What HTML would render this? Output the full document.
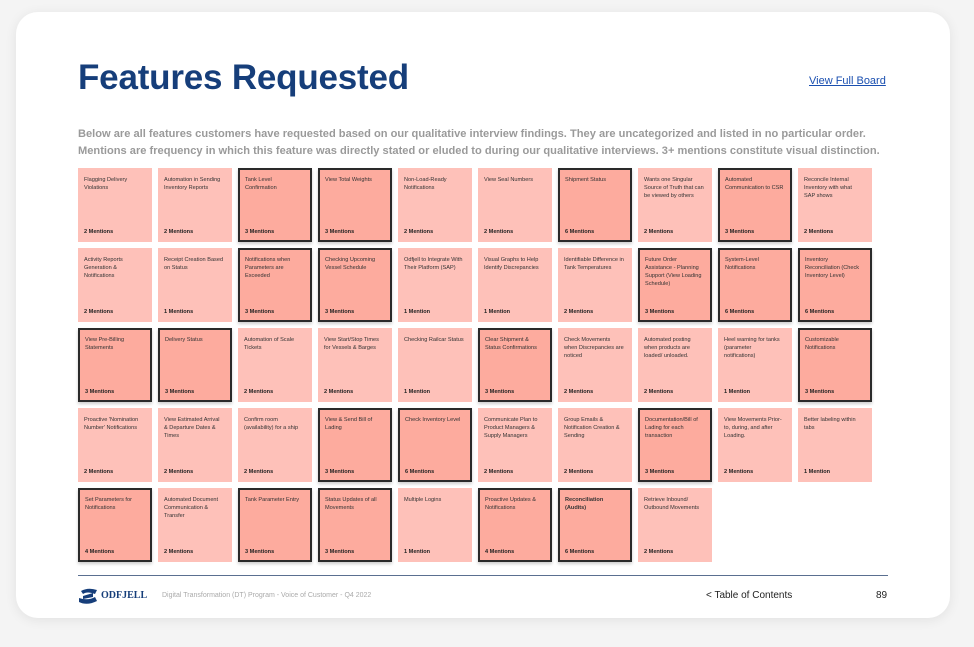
<!DOCTYPE html>
<html><head><meta charset="utf-8"><style>
body{margin:0;width:974px;height:647px;background:#f4f4f4;font-family:"Liberation Sans",sans-serif;position:relative;overflow:hidden}
.card{position:absolute;left:16px;top:12px;width:934px;height:606px;background:#fff;border-radius:22px;box-shadow:0 2px 12px rgba(0,0,0,.08)}
h1{position:absolute;left:78px;top:58px;margin:0;font-size:35px;font-weight:bold;color:#163e7a;letter-spacing:-0.2px}
.link{position:absolute;left:809px;top:75px;font-size:11px;color:#1a4fb0;text-decoration:underline}
.desc{position:absolute;left:78px;top:126px;width:830px;font-size:11.1px;line-height:17px;color:#9a9a9a;font-weight:bold}
.t{position:absolute;width:74px;height:74px;background:#fec1b9;box-sizing:border-box;font-size:5.6px;line-height:8px;color:#333}
.t.b{background:#fdab9e;border:2px solid #2a2a2a;box-shadow:0 2px 3px rgba(0,0,0,.2)}
.t .n{position:absolute;left:6px;top:8px;right:8px}
.t .m{position:absolute;left:6px;top:60px;font-weight:bold;color:#222}
.t.b .n{left:5px;top:6px;right:6px}.t.b .m{left:5px;top:58px}
.line{position:absolute;left:78px;top:575px;width:810px;height:1px;background:#5a6f90}
.foot{position:absolute;top:592px;font-size:7px;color:#aaa}
</style></head><body>
<div class="card"></div>
<h1>Features Requested</h1>
<div class="link">View Full Board</div>
<div class="desc">Below are all features customers have requested based on our qualitative interview findings. They are uncategorized and listed in no particular order. Mentions are frequency in which this feature was directly stated or eluded to during our qualitative interviews. 3+ mentions constitute visual distinction.</div>
<div id="g"></div>
<div class="line"></div>
<svg style="position:absolute;left:78px;top:588px" width="20" height="16" viewBox="0 0 20 16"><path d="M3 3 Q10 -1 19 2 L17 6 Q9 3 5 6 Z M1 10 Q10 13 17 9 L19 13 Q9 18 1 14 Z M5 8 L15 5 L15 9 L5 11Z" fill="#163e7a"/></svg>
<div class="foot" style="left:101px;top:590px;font-size:10px;color:#163e7a;font-family:'Liberation Serif',serif;font-weight:bold">ODFJELL</div>
<div class="foot" style="left:162px">Digital Transformation (DT) Program - Voice of Customer - Q4 2022</div>
<div class="foot" style="left:706px;top:590px;font-size:10px;color:#222">&lt; Table of Contents</div>
<div class="foot" style="left:876px;top:590px;font-size:10px;color:#222">89</div>
<script>
var d=[
["Flagging Delivery Violations","2 Mentions",0],["Automation in Sending Inventory Reports","2 Mentions",0],["Tank Level Confirmation","3 Mentions",1],["View Total Weights","3 Mentions",1],["Non-Load-Ready Notifications","2 Mentions",0],["View Seal Numbers","2 Mentions",0],["Shipment Status","6 Mentions",1],["Wants one Singular Source of Truth that can be viewed by others","2 Mentions",0],["Automated Communication to CSR","3 Mentions",1],["Reconcile Internal Inventory with what SAP shows","2 Mentions",0],
["Activity Reports Generation &amp; Notifications","2 Mentions",0],["Receipt Creation Based on Status","1 Mentions",0],["Notifications when Parameters are Exceeded","3 Mentions",1],["Checking Upcoming Vessel Schedule","3 Mentions",1],["Odfjell to Integrate With Their Platform (SAP)","1 Mention",0],["Visual Graphs to Help Identify Discrepancies","1 Mention",0],["Identifiable Difference in Tank Temperatures","2 Mentions",0],["Future Order Assistance - Planning Support (View Loading Schedule)","3 Mentions",1],["System-Level Notifications","6 Mentions",1],["Inventory Reconciliation (Check Inventory Level)","6 Mentions",1],
["View Pre-Billing Statements","3 Mentions",1],["Delivery Status","3 Mentions",1],["Automation of Scale Tickets","2 Mentions",0],["View Start/Stop Times for Vessels &amp; Barges","2 Mentions",0],["Checking Railcar Status","1 Mention",0],["Clear Shipment &amp; Status Confirmations","3 Mentions",1],["Check Movements when Discrepancies are noticed","2 Mentions",0],["Automated posting when products are loaded/ unloaded.","2 Mentions",0],["Heel warning for tanks (parameter notifications)","1 Mention",0],["Customizable Notifications","3 Mentions",1],
["Proactive 'Nomination Number' Notifications","2 Mentions",0],["View Estimated Arrival &amp; Departure Dates &amp; Times","2 Mentions",0],["Confirm room (availability) for a ship","2 Mentions",0],["View &amp; Send Bill of Lading","3 Mentions",1],["Check Inventory Level","6 Mentions",1],["Communicate Plan to Product Managers &amp; Supply Managers","2 Mentions",0],["Group Emails &amp; Notification Creation &amp; Sending","2 Mentions",0],["Documentation/Bill of Lading for each transaction","3 Mentions",1],["View Movements Prior-to, during, and after Loading.","2 Mentions",0],["Better labeling within tabs","1 Mention",0],
["Set Parameters for Notifications","4 Mentions",1],["Automated Document Communication &amp; Transfer","2 Mentions",0],["Tank Parameter Entry","3 Mentions",1],["Status Updates of all Movements","3 Mentions",1],["Multiple Logins","1 Mention",0],["Proactive Updates &amp; Notifications","4 Mentions",1],["<b>Reconciliation (Audits)</b>","6 Mentions",1],["Retrieve Inbound/ Outbound Movements","2 Mentions",0]];
var h="";d.forEach(function(t,i){var c=i%10,r=Math.floor(i/10);h+='<div class="t'+(t[2]?' b':'')+'" style="left:'+(78+c*80)+'px;top:'+(168+r*80)+'px"><div class="n">'+t[0]+'</div><div class="m">'+t[1]+'</div></div>';});
document.getElementById("g").innerHTML=h;
</script>
</body></html>
